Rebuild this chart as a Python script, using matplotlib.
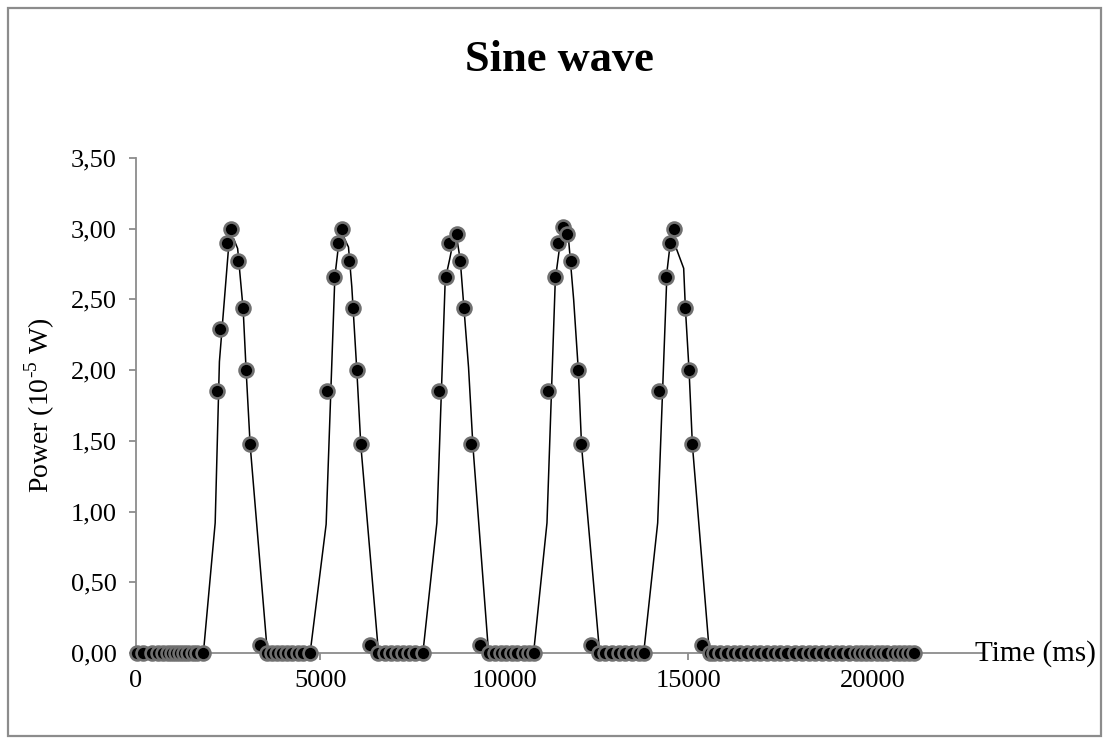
import matplotlib.pyplot as plt
from matplotlib.patches import Rectangle
from matplotlib.ticker import FuncFormatter, MultipleLocator

plt.rcParams['font.family'] = ['Liberation Serif', 'DejaVu Serif']
plt.rcParams['mathtext.fontset'] = 'custom'
plt.rcParams['mathtext.rm'] = 'Liberation Serif'

# ── measured points (markers) ────────────────────────────────────────────────
time_ms = [30, 198, 427, 606, 742, 861, 970, 1087, 1196, 1313, 1421, 1541, 1649, 1830,
           2193, 2283, 2473, 2591, 2781, 2908, 2989, 3098, 3361,
           3551, 3687, 3823, 3959, 4095, 4247, 4394, 4546, 4715,
           5199, 5389, 5480, 5598, 5788, 5906, 5996, 6105, 6359,
           6585, 6766, 6929, 7084, 7247, 7400, 7563, 7800,
           8215, 8405, 8497, 8714, 8786, 8895, 9086, 9348,
           9574, 9740, 9900, 10060, 10200, 10345, 10524, 10660, 10800,
           11177, 11377, 11467, 11584, 11704, 11802, 12011, 12092, 12355,
           12563, 12745, 12927, 13106, 13288, 13470, 13650, 13786,
           14212, 14402, 14502, 14601, 14918, 15018, 15109, 15372,
           15598, 15688, 15870, 16052, 16234, 16413, 16595, 16777, 16957, 17139,
           17318, 17500, 17682, 17908, 18090, 18269, 18451, 18633, 18813, 18995,
           19177, 19356, 19538, 19674, 19810, 19946, 20128, 20264, 20399, 20581,
           20717, 20853, 20988, 21123]
power = [0] * 14 + \
        [1.85, 2.29, 2.90, 3.00, 2.77, 2.44, 2.00, 1.48, 0.06] + [0] * 9 + \
        [1.85, 2.66, 2.90, 3.00, 2.77, 2.44, 2.00, 1.48, 0.06] + [0] * 8 + \
        [1.85, 2.66, 2.90, 2.96, 2.77, 2.44, 1.48, 0.06] + [0] * 9 + \
        [1.85, 2.66, 2.90, 3.01, 2.96, 2.77, 2.00, 1.48, 0.06] + [0] * 8 + \
        [1.85, 2.66, 2.90, 3.00, 2.44, 2.00, 1.48, 0.06] + [0] * 34

# ── model curve (line) ──────────────────────────────────────────────────────
line_time = [0, 1830, 2150, 2265, 2530, 2650, 2760, 2910, 2990, 3100, 3568,
             4728, 5163, 5400, 5516, 5634, 5770, 5860, 5996, 6105, 6585,
             7790, 8170, 8397, 8514, 8623, 8732, 8804, 9030, 9150, 9574,
             10796, 11160, 11386, 11503, 11612, 11748, 11884, 12011, 12100, 12590,
             13786, 14166, 14420, 14500, 14601, 14872, 14918, 15018, 15109, 15571,
             21123]
line_power = [0, 0, 0.92, 2.06, 2.92, 2.93, 2.86, 2.43, 2.00, 1.47, 0,
              0, 0.91, 2.66, 2.92, 2.945, 2.87, 2.59, 2.00, 1.47, 0,
              0, 0.92, 2.64, 2.78, 2.92, 2.90, 2.78, 2.02, 1.46, 0,
              0, 0.92, 2.64, 2.87, 2.97, 2.92, 2.50, 2.00, 1.46, 0,
              0, 0.92, 2.70, 2.88, 2.91, 2.72, 2.44, 2.00, 1.47, 0,
              0]

W, H = 1109, 740
fig = plt.figure(figsize=(W / 100, H / 100), dpi=100)
fig.patch.set_facecolor('white')
fig.patches.append(Rectangle((8 / W, 4 / H), (W - 16) / W, (H - 12) / H,
                             transform=fig.transFigure, fill=False,
                             edgecolor='#8c8c8c', linewidth=1.6))

ax = fig.add_axes([136 / W, 87 / H, (983 - 136) / W, (653 - 158) / H])
ax.plot(line_time, line_power, color='black', linewidth=1.1, zorder=2)
ax.plot(time_ms, power, linestyle='none', marker='o', markersize=10,
        markerfacecolor='black', markeredgecolor='#707070', markeredgewidth=1.9,
        zorder=3, clip_on=False)

ax.set_xlim(0, 23000)
ax.set_ylim(0, 3.5)
ax.xaxis.set_major_locator(MultipleLocator(5000))
ax.yaxis.set_major_locator(MultipleLocator(0.5))
ax.yaxis.set_major_formatter(FuncFormatter(lambda v, p: f'{v:.2f}'.replace('.', ',')))
ax.xaxis.set_major_formatter(FuncFormatter(lambda v, p: f'{v:.0f}'))

for side in ['top', 'right']:
    ax.spines[side].set_visible(False)
for side in ['left', 'bottom']:
    ax.spines[side].set_color('#8c8c8c')
    ax.spines[side].set_linewidth(1.3)
ax.tick_params(axis='both', direction='out', length=5, width=1.3, color='#8c8c8c',
               labelsize=19, labelcolor='black')
ax.tick_params(axis='y', pad=9)
ax.tick_params(axis='x', pad=7)

fig.text(559 / W, (H - 60) / H, 'Sine wave', ha='center',
         va='center', fontsize=32, fontweight='bold')
fig.text(40 / W, (H - 405) / H, 'Power (10$^{\u20105}$ W)', rotation=90, ha='center',
         va='center', fontsize=20)
fig.text(975 / W, (H - 654) / H, 'Time (ms)', ha='left', va='center', fontsize=21)

plt.savefig('out.png', dpi=100)
